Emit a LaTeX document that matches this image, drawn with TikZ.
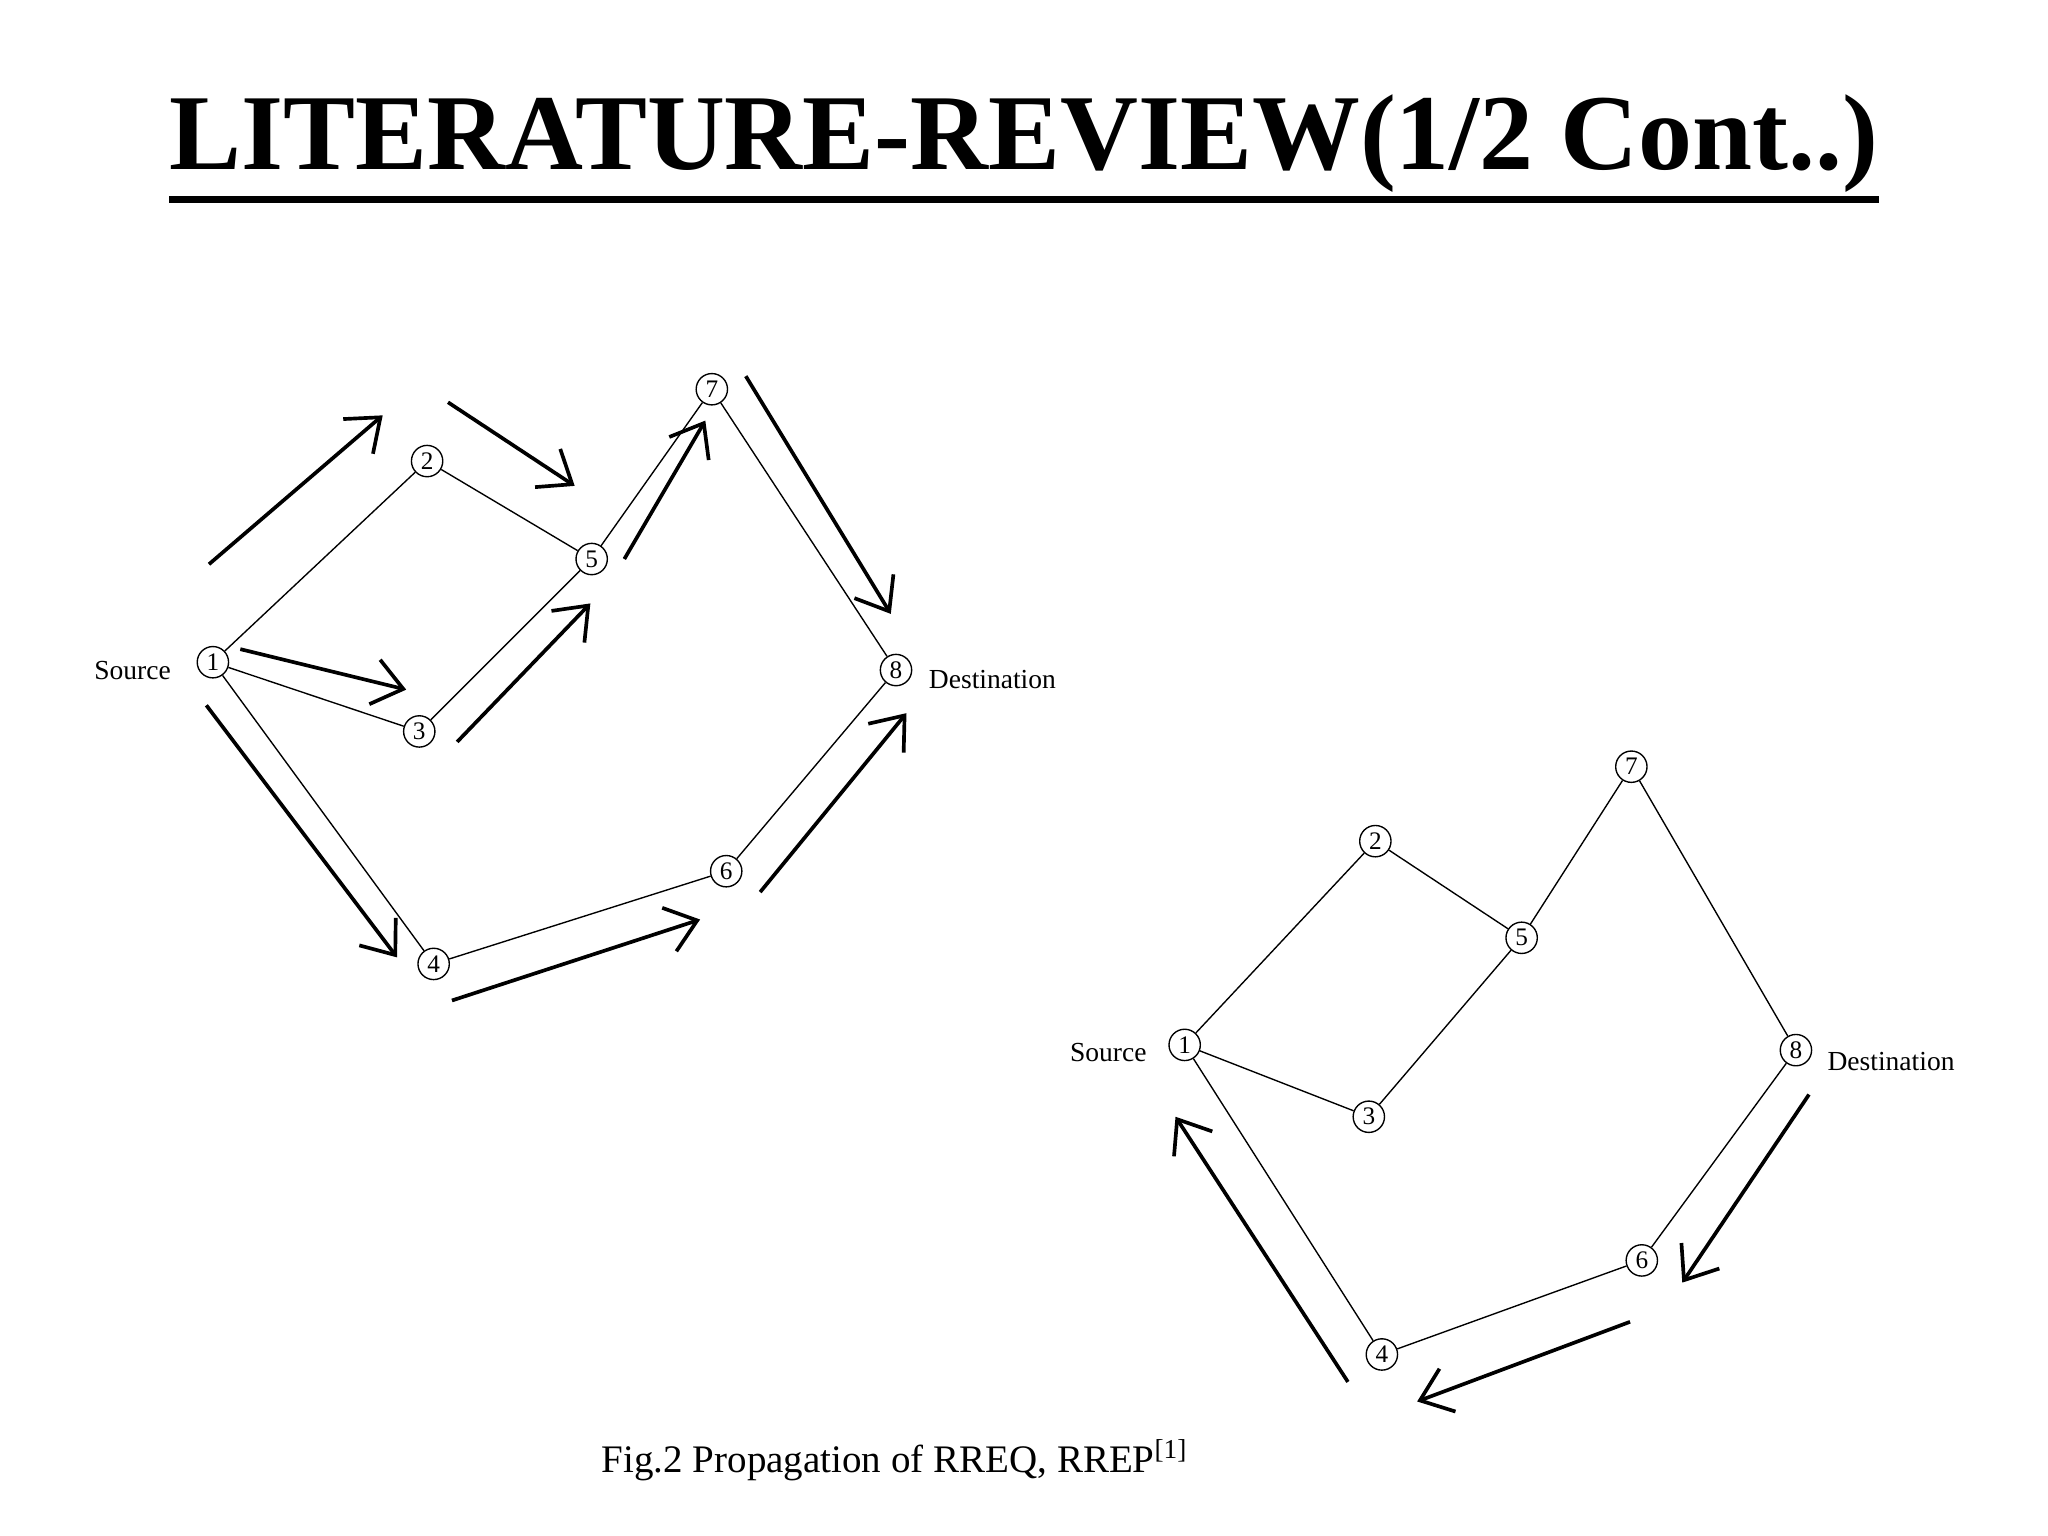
\documentclass[tikz,border=0pt]{standalone}
\usepackage{fontspec}
\setmainfont{Liberation Serif}
\usetikzlibrary{arrows.meta}
\begin{document}
\begin{tikzpicture}[x=0.02cm,y=-0.02cm,
  nd/.style={circle,draw,line width=0.6pt,inner sep=0pt,minimum size=0.48cm,font=\fontsize{11}{11}\selectfont},
  ed/.style={line width=0.6pt},
  ar/.style={line width=1.6pt,-{Straight Barb[length=0.45cm,width=0.7cm,line width=1.6pt]}},
  lb/.style={font=\fontsize{12}{12}\selectfont}]
\useasboundingbox (0,0) rectangle (1568,1176);
\node[font=\bfseries\fontsize{47}{49}\selectfont,inner sep=0pt] (title) at (784,110) {LITERATURE-REVIEW(1/2 Cont..)};
\draw[line width=3pt] ([yshift=-3pt]title.south west) -- ([yshift=-3pt]title.south east);
% left graph
\node[nd] (a1) at (163,507) {1};
\node[nd] (a2) at (327,353) {2};
\node[nd] (a3) at (321,560) {3};
\node[nd] (a4) at (332,738) {4};
\node[nd] (a5) at (453,428) {5};
\node[nd] (a6) at (556,667) {6};
\node[nd] (a7) at (545,298) {7};
\node[nd] (a8) at (686,513) {8};
\node[lb,anchor=east] (as) at (137,513) {Source};
\node[lb,anchor=west] (ad) at (705,520) {Destination};
\draw[ed] (a1)--(a2) (a1)--(a3) (a1)--(a4) (a2)--(a5) (a3)--(a5) (a5)--(a7) (a7)--(a8) (a4)--(a6) (a6)--(a8);
\coordinate (p1) at (160,432); \coordinate (q1) at (293,318);
\coordinate (p2) at (343,308); \coordinate (q2) at (440,372);
\coordinate (p3) at (184,497); \coordinate (q3) at (311,528);
\coordinate (p4) at (350,568); \coordinate (q4) at (452,462);
\coordinate (p5) at (478,428); \coordinate (q5) at (540,322);
\coordinate (p6) at (571,288); \coordinate (q6) at (682,470);
\coordinate (p7) at (158,540); \coordinate (q7) at (304,733);
\coordinate (p8) at (346,766); \coordinate (q8) at (536,704);
\coordinate (p9) at (582,683); \coordinate (q9) at (694,546);
\foreach \i in {1,...,9} \draw[ar] (p\i)--(q\i);
% right graph
\node[nd] (b1) at (907,800) {1};
\node[nd] (b2) at (1053,644) {2};
\node[nd] (b3) at (1048,855) {3};
\node[nd] (b4) at (1058,1037) {4};
\node[nd] (b5) at (1165,718) {5};
\node[nd] (b6) at (1257,965) {6};
\node[nd] (b7) at (1249,587) {7};
\node[nd] (b8) at (1375,804) {8};
\node[lb,anchor=east] (bs) at (884,806) {Source};
\node[lb,anchor=west] (bd) at (1393,813) {Destination};
\draw[ed] (b1)--(b2) (b1)--(b3) (b1)--(b4) (b2)--(b5) (b3)--(b5) (b5)--(b7) (b7)--(b8) (b4)--(b6) (b6)--(b8);
\coordinate (r1) at (1032,1058); \coordinate (s1) at (900,855);
\coordinate (r2) at (1385,838); \coordinate (s2) at (1288,982);
\coordinate (r3) at (1248,1012); \coordinate (s3) at (1085,1073);
\foreach \i in {1,2,3} \draw[ar] (r\i)--(s\i);
\node[font=\fontsize{17}{18}\selectfont] (cap) at (685,1118) {Fig.2 Propagation of RREQ, RREP\textsuperscript{[1]}};
\end{tikzpicture}
\end{document}
